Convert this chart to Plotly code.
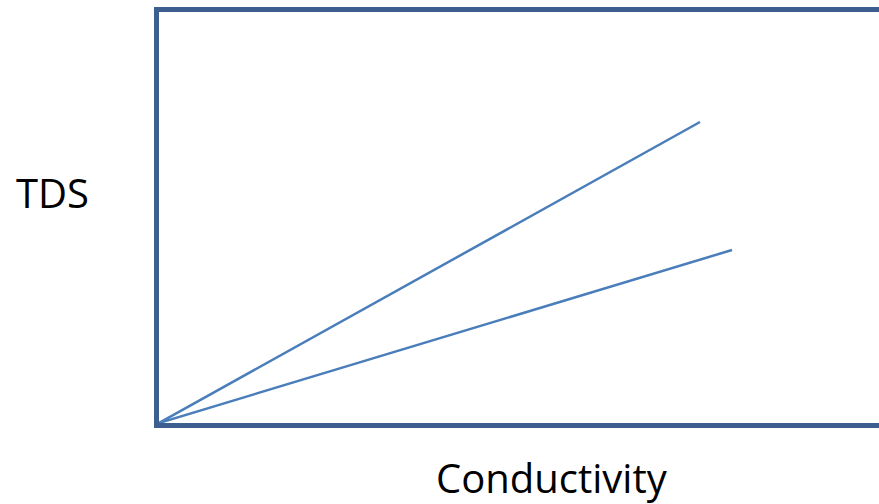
import plotly.graph_objects as go

# Data (arbitrary units)
conductivity = [0, 541]
tds_high = [0, 301]
conductivity_low = [0, 573]
tds_low = [0, 173]

fig = go.Figure()
fig.add_trace(go.Scatter(x=conductivity, y=tds_high, mode="lines",
                         line=dict(color="#4a7ebb", width=2.5), cliponaxis=False))
fig.add_trace(go.Scatter(x=conductivity_low, y=tds_low, mode="lines",
                         line=dict(color="#4a7ebb", width=2.5), cliponaxis=False))

border = "#3c5f8f"
fig.update_layout(
    width=879, height=504,
    margin=dict(l=159, r=0, t=12, b=81),
    paper_bgcolor="white", plot_bgcolor="white",
    showlegend=False,
    xaxis=dict(range=[0, 720], showline=True, linecolor=border, linewidth=5,
               mirror=True, showgrid=False, zeroline=False, showticklabels=False, ticks=""),
    yaxis=dict(range=[0, 411], showline=True, linecolor=border, linewidth=5,
               mirror=False, showgrid=False, zeroline=False, showticklabels=False, ticks=""),
    annotations=[
        dict(text="TDS", xref="paper", yref="paper", x=(52 - 159) / 720, y=(423 - 192) / 411,
             showarrow=False, font=dict(family="Open Sans", size=40, color="black"),
             xanchor="center", yanchor="middle"),
        dict(text="Conductivity", xref="paper", yref="paper", x=(552 - 159) / 720, y=(423 - 477) / 411,
             showarrow=False, font=dict(family="Open Sans", size=40, color="black"),
             xanchor="center", yanchor="middle"),
    ],
)

fig.write_html("out.html", config={"displayModeBar": False},
               post_script="document.body.style.margin='0';document.body.style.padding='0';")
